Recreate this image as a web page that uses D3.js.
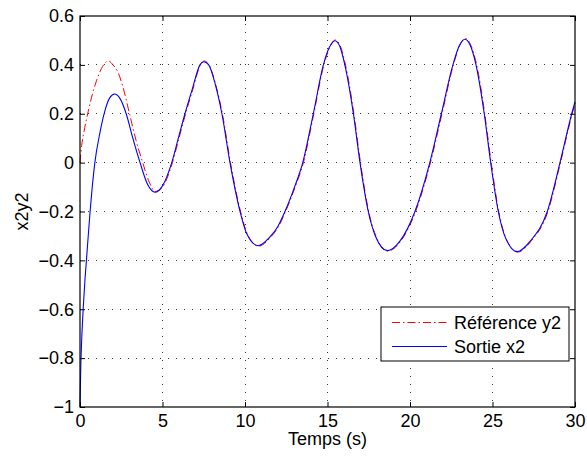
<!DOCTYPE html>
<html>
<head>
<meta charset="utf-8">
<script src="https://cdn.jsdelivr.net/npm/d3@7"></script>
<style>
  html, body { margin: 0; padding: 0; background: #fff; }
  svg { display: block; font-family: "Liberation Sans", Arial, Helvetica, sans-serif; }
</style>
</head>
<body>
<svg id="chart" width="587" height="456"></svg>
<script>
// Reference signal y2 (time in s, value)
const refTime = [0, 0.1, 0.25, 0.5, 0.75, 1.0, 1.3, 1.72, 2.0, 2.3, 2.6, 3.0, 3.4, 3.8, 4.2, 4.55, 5.0, 5.6, 6.0, 6.4, 6.84, 7.3, 7.52, 7.82, 8.22, 8.63, 9.12, 9.73, 10.13, 10.83, 11.53, 12.03, 12.46, 13.04, 13.54, 14.17, 14.78, 15.13, 15.47, 15.78, 16.09, 16.6, 17.0, 17.5, 17.93, 18.65, 19.43, 20.34, 21.24, 21.94, 22.63, 23.03, 23.36, 23.68, 24.04, 24.53, 24.92, 25.38, 25.83, 26.53, 27.33, 28.36, 29.12, 29.83, 30];
const refValue = [0.0, 0.07, 0.13, 0.21, 0.28, 0.335, 0.385, 0.416, 0.4, 0.37, 0.31, 0.2, 0.09, 0.0, -0.08, -0.118, -0.1, 0.0, 0.1, 0.2, 0.3, 0.4, 0.416, 0.4, 0.32, 0.2, 0.0, -0.2, -0.29, -0.342, -0.307, -0.262, -0.2, -0.1, 0.0, 0.2, 0.4, 0.47, 0.502, 0.477, 0.4, 0.2, 0.0, -0.2, -0.3, -0.362, -0.322, -0.2, 0.0, 0.2, 0.4, 0.482, 0.508, 0.482, 0.4, 0.2, 0.0, -0.2, -0.312, -0.366, -0.322, -0.2, 0.0, 0.2, 0.243];

// System output x2
const outTime = [0, 0.05, 0.1, 0.2, 0.3, 0.4, 0.6, 0.9, 1.2, 1.5, 1.8, 2.1, 2.4, 2.8, 3.2, 3.64, 4.1, 4.55, 5.0, 5.56, 5.96, 6.36, 6.8, 7.27, 7.5, 7.8, 8.2, 8.6, 9.09, 9.7, 10.1, 10.8, 11.5, 12.0, 12.42, 13.0, 13.5, 14.14, 14.75, 15.1, 15.45, 15.75, 16.05, 16.57, 16.97, 17.47, 17.9, 18.63, 19.4, 20.3, 21.2, 21.9, 22.6, 23.0, 23.33, 23.65, 24.0, 24.5, 24.89, 25.35, 25.8, 26.5, 27.3, 28.32, 29.09, 29.8, 30];
const outValue = [-1, -0.83, -0.73, -0.59, -0.48, -0.39, -0.21, 0.0, 0.12, 0.21, 0.265, 0.281, 0.265, 0.2, 0.1, 0.0, -0.09, -0.121, -0.095, 0.0, 0.1, 0.2, 0.3, 0.4, 0.413, 0.4, 0.32, 0.2, 0.0, -0.2, -0.29, -0.34, -0.305, -0.26, -0.2, -0.1, 0.0, 0.2, 0.4, 0.47, 0.499, 0.475, 0.4, 0.2, 0.0, -0.2, -0.3, -0.36, -0.32, -0.2, 0.0, 0.2, 0.4, 0.48, 0.505, 0.48, 0.4, 0.2, 0.0, -0.2, -0.31, -0.364, -0.32, -0.2, 0.0, 0.2, 0.249];

const xTicks = [0, 5, 10, 15, 20, 25, 30];
const yTicks = [-1, -0.8, -0.6, -0.4, -0.2, 0, 0.2, 0.4, 0.6];
const seriesNames = ["Référence y2", "Sortie x2"];
const xTitle = "Temps (s)";
const yTitle = "x2y2";

const svg = d3.select("#chart");
const plotL = 80, plotR = 575, plotT = 16, plotB = 407;

const x = d3.scaleLinear().domain([0, 30]).range([plotL, plotR]);
const y = d3.scaleLinear().domain([-1, 0.6]).range([plotB, plotT]);

const fmt = v => {
  const s = String(Math.round(v * 10) / 10);
  return s.replace("-", "\u2212");
};

// Dotted grid
const grid = svg.append("g");
xTicks.slice(1, -1).forEach(t => {
  grid.append("line")
    .attr("x1", x(t)).attr("x2", x(t))
    .attr("y1", plotT).attr("y2", plotB)
    .attr("stroke", "#333").attr("stroke-width", 1)
    .attr("stroke-dasharray", "1,7")
    .attr("shape-rendering", "crispEdges");
});
yTicks.slice(1, -1).forEach(t => {
  grid.append("line")
    .attr("x1", plotL).attr("x2", plotR)
    .attr("y1", y(t)).attr("y2", y(t))
    .attr("stroke", "#333").attr("stroke-width", 1)
    .attr("stroke-dasharray", "1,7")
    .attr("shape-rendering", "crispEdges");
});

// Curves
const line = d3.line()
  .x(d => x(d[0]))
  .y(d => y(d[1]))
  .curve(d3.curveMonotoneX);

const refData = refTime.map((t, i) => [t, refValue[i]]);
const outData = outTime.map((t, i) => [t, outValue[i]]);

svg.append("path")
  .datum(refData)
  .attr("d", line)
  .attr("fill", "none")
  .attr("stroke", "#ff0000")
  .attr("stroke-width", 1)
  .attr("stroke-dasharray", "8,3,1.5,3");

svg.append("path")
  .datum(outData)
  .attr("d", line)
  .attr("fill", "none")
  .attr("stroke", "#0000ff")
  .attr("stroke-width", 1.1);

// Axes with inward ticks on all four sides
const tickLen = 5;
const axB = d3.axisBottom(x).tickValues(xTicks).tickSize(-tickLen).tickPadding(7).tickFormat(fmt);
const axT = d3.axisTop(x).tickValues(xTicks).tickSize(-tickLen).tickFormat("");
const axL = d3.axisLeft(y).tickValues(yTicks).tickSize(-tickLen).tickPadding(6).tickFormat(fmt);
const axR = d3.axisRight(y).tickValues(yTicks).tickSize(-tickLen).tickFormat("");

function styleAxis(g) {
  g.select(".domain").remove();
  g.selectAll(".tick line").attr("stroke", "#000").attr("stroke-width", 1);
  g.selectAll(".tick text")
    .attr("fill", "#000")
    .style("font-size", "18px")
    .style("font-family", "'Liberation Sans', Arial, sans-serif");
}

svg.append("g").attr("transform", `translate(0,${plotB})`).call(axB).call(styleAxis);
svg.append("g").attr("transform", `translate(0,${plotT})`).call(axT).call(styleAxis);
svg.append("g").attr("transform", `translate(${plotL},0)`).call(axL).call(styleAxis);
svg.append("g").attr("transform", `translate(${plotR},0)`).call(axR).call(styleAxis);

// Axes box
svg.append("rect")
  .attr("x", plotL).attr("y", plotT)
  .attr("width", plotR - plotL).attr("height", plotB - plotT)
  .attr("fill", "none").attr("stroke", "#000").attr("stroke-width", 1.2);

// Axis titles
svg.append("text")
  .attr("x", (plotL + plotR) / 2).attr("y", 445)
  .attr("text-anchor", "middle")
  .style("font-size", "18px")
  .text(xTitle);

svg.append("text")
  .attr("transform", `translate(28,${(plotT + plotB) / 2}) rotate(-90)`)
  .attr("text-anchor", "middle")
  .style("font-size", "18px")
  .text(yTitle);

// Legend
const lg = svg.append("g");
lg.append("rect")
  .attr("x", 381).attr("y", 307)
  .attr("width", 188).attr("height", 54)
  .attr("fill", "#fff").attr("stroke", "#000").attr("stroke-width", 1);

const legendItems = [
  { name: seriesNames[0], color: "#ff0000", dash: "8,3,1.5,3", yy: 322.5 },
  { name: seriesNames[1], color: "#0000ff", dash: null, yy: 346.5 }
];
legendItems.forEach(it => {
  lg.append("line")
    .attr("x1", 392).attr("x2", 447)
    .attr("y1", it.yy).attr("y2", it.yy)
    .attr("stroke", it.color).attr("stroke-width", 1)
    .attr("stroke-dasharray", it.dash);
  lg.append("text")
    .attr("x", 454).attr("y", it.yy + 6)
    .style("font-size", "18px")
    .text(it.name);
});
</script>
</body>
</html>
